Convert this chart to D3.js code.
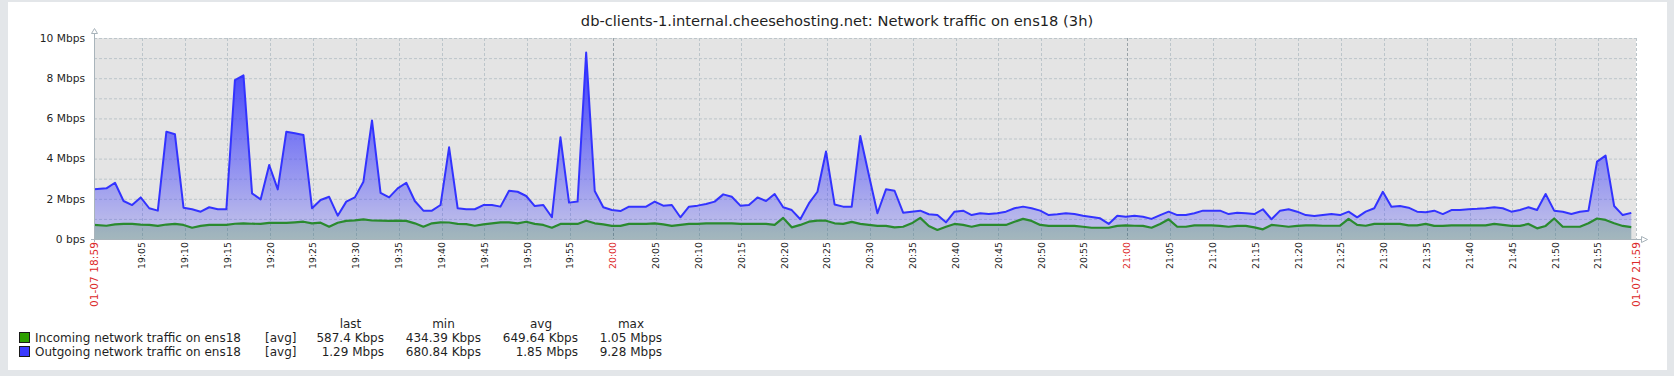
<!DOCTYPE html>
<html>
<head>
<meta charset="utf-8">
<script src="https://cdn.jsdelivr.net/npm/d3@7/dist/d3.min.js"></script>
<style>
  html, body { margin: 0; padding: 0; background: #e3e6e9; }
  #chart { width: 1674px; height: 376px; }
  #chart text { font-family: "DejaVu Sans", sans-serif; fill: #1f1f1f; }
</style>
</head>
<body>
<div id="chart"></div>
<script>
// Zabbix style traffic graph, 3h window

const chartTitle = 'db-clients-1.internal.cheesehosting.net: Network traffic on ens18 (3h)';

// y axis, in Mbps
const yGridValues = [0, 1, 2, 3, 4, 5, 6, 7, 8, 9, 10];
const yLabelValues = [0, 2, 4, 6, 8, 10];
const yLabelTexts = ['0 bps', '2 Mbps', '4 Mbps', '6 Mbps', '8 Mbps', '10 Mbps'];

// time window and sampling (UTC, one sample a minute)
const rangeStart = Date.UTC(2025, 0, 7, 18, 59, 26);
const rangeEnd = Date.UTC(2025, 0, 7, 21, 59, 26);
const sampleStart = Date.UTC(2025, 0, 7, 18, 59, 53);
const sampleStepMs = 60 * 1000;

// Outgoing network traffic on ens18, Mbps per minute
const outgoing = [
  2.47, 2.52, 2.80, 1.89, 1.69, 2.07, 1.53, 1.41, 5.34, 5.21,
  1.56, 1.48, 1.36, 1.58, 1.48, 1.48, 7.90, 8.14, 2.27, 1.97,
  3.68, 2.47, 5.34, 5.26, 5.17, 1.53, 1.94, 2.10, 1.16, 1.86,
  2.07, 2.85, 5.90, 2.30, 2.07, 2.52, 2.80, 1.89, 1.41, 1.41,
  1.69, 4.56, 1.53, 1.48, 1.48, 1.69, 1.69, 1.61, 2.40, 2.35,
  2.14, 1.64, 1.69, 1.08, 5.06, 1.81, 1.86, 9.28, 2.39, 1.58,
  1.44, 1.39, 1.61, 1.61, 1.61, 1.86, 1.66, 1.69, 1.08, 1.61,
  1.66, 1.74, 1.86, 2.22, 2.10, 1.66, 1.69, 2.07, 1.89, 2.24,
  1.58, 1.44, 0.98, 1.77, 2.35, 4.35, 1.72, 1.61, 1.61, 5.12,
  3.18, 1.28, 2.47, 2.40, 1.31, 1.36, 1.41, 1.23, 1.19, 0.83,
  1.36, 1.41, 1.19, 1.28, 1.24, 1.28, 1.36, 1.53, 1.61, 1.53,
  1.41, 1.19, 1.23, 1.28, 1.24, 1.16, 1.10, 1.03, 0.75, 1.16,
  1.11, 1.16, 1.11, 1.00, 1.19, 1.36, 1.19, 1.19, 1.28, 1.41,
  1.41, 1.41, 1.24, 1.31, 1.28, 1.24, 1.48, 0.98, 1.41, 1.48,
  1.36, 1.19, 1.14, 1.19, 1.24, 1.19, 1.36, 1.08, 1.36, 1.53,
  2.35, 1.61, 1.64, 1.56, 1.36, 1.33, 1.41, 1.24, 1.44, 1.44,
  1.48, 1.50, 1.53, 1.58, 1.53, 1.36, 1.44, 1.58, 1.44, 2.24,
  1.41, 1.36, 1.24, 1.36, 1.41, 3.85, 4.15, 1.64, 1.19, 1.30
];

// Incoming network traffic on ens18, Mbps per minute
const incoming = [
  0.70, 0.66, 0.73, 0.75, 0.75, 0.72, 0.70, 0.65, 0.72, 0.75,
  0.70, 0.56, 0.65, 0.70, 0.70, 0.70, 0.76, 0.78, 0.76, 0.75,
  0.80, 0.80, 0.80, 0.83, 0.86, 0.78, 0.81, 0.61, 0.81, 0.90,
  0.93, 0.98, 0.92, 0.91, 0.90, 0.91, 0.90, 0.78, 0.61, 0.78,
  0.83, 0.82, 0.75, 0.74, 0.66, 0.73, 0.78, 0.83, 0.83, 0.78,
  0.86, 0.75, 0.70, 0.56, 0.75, 0.75, 0.75, 0.91, 0.78, 0.73,
  0.65, 0.65, 0.75, 0.75, 0.75, 0.78, 0.73, 0.65, 0.70, 0.75,
  0.75, 0.78, 0.78, 0.78, 0.78, 0.75, 0.75, 0.75, 0.75, 0.70,
  1.05, 0.58, 0.70, 0.86, 0.91, 0.91, 0.78, 0.75, 0.85, 0.75,
  0.70, 0.65, 0.65, 0.58, 0.61, 0.78, 1.05, 0.65, 0.45, 0.61,
  0.75, 0.70, 0.61, 0.70, 0.70, 0.70, 0.70, 0.86, 1.00, 0.90,
  0.70, 0.65, 0.65, 0.65, 0.65, 0.61, 0.56, 0.56, 0.56, 0.65,
  0.68, 0.66, 0.65, 0.56, 0.75, 0.98, 0.61, 0.61, 0.68, 0.68,
  0.68, 0.65, 0.61, 0.65, 0.65, 0.58, 0.48, 0.70, 0.66, 0.61,
  0.65, 0.68, 0.68, 0.66, 0.66, 0.66, 1.00, 0.70, 0.66, 0.75,
  0.75, 0.75, 0.75, 0.68, 0.68, 0.75, 0.65, 0.65, 0.68, 0.68,
  0.68, 0.68, 0.68, 0.75, 0.70, 0.65, 0.65, 0.75, 0.53, 0.65,
  1.02, 0.61, 0.61, 0.61, 0.78, 1.02, 0.95, 0.78, 0.65, 0.59
];

// legend table
const legendNames = ['Incoming network traffic on ens18', 'Outgoing network traffic on ens18'];
const legendFunc = ['[avg]', '[avg]'];
const legendHeaders = ['last', 'min', 'avg', 'max'];
const legendLast = ['587.4 Kbps', '1.29 Mbps'];
const legendMin = ['434.39 Kbps', '680.84 Kbps'];
const legendAvg = ['649.64 Kbps', '1.85 Mbps'];
const legendMax = ['1.05 Mbps', '9.28 Mbps'];

const W = 1674, H = 376;
const plot = { left: 94, right: 1636, top: 38, bottom: 239 };
const axisColor = '#a9b4bb';
const gridColor = '#bcc5ca';
const redText = '#dc2a2a';
const inColor = { swatch: '#2ea000', line: '#2a8a2e', fill: 'rgba(26,124,17,0.2)' };
const outColor = { swatch: '#3b3bff', line: '#3333ff' };

const svg = d3.select('#chart').append('svg')
  .attr('width', W)
  .attr('height', H);

// white panel inside the grey page border
svg.append('rect')
  .attr('x', 8).attr('y', 2)
  .attr('width', 1659).attr('height', 368)
  .attr('fill', '#ffffff');

svg.append('text')
  .attr('x', W / 2)
  .attr('y', 26)
  .attr('text-anchor', 'middle')
  .style('font-size', '14.67px')
  .text(chartTitle);

const x = d3.scaleUtc()
  .domain([rangeStart, rangeEnd])
  .range([plot.left, plot.right]);

const y = d3.scaleLinear()
  .domain([0, 10])
  .range([plot.bottom, plot.top]);

// plot background
svg.append('rect')
  .attr('x', plot.left)
  .attr('y', plot.top)
  .attr('width', plot.right - plot.left)
  .attr('height', plot.bottom - plot.top)
  .attr('fill', '#e4e4e4');

// 5 minute ticks, skipping any that crowd the edge labels
const ticks = d3.utcMinute.every(5).range(new Date(rangeStart), new Date(rangeEnd))
  .filter(t => x(t) - plot.left > 20 && plot.right - x(t) > 20);
const isHour = t => t.getUTCMinutes() === 0;

const grid = svg.append('g').attr('class', 'grid');
grid.selectAll('line.h')
  .data(yGridValues.filter(v => v > 0))
  .join('line')
  .attr('class', 'h')
  .attr('x1', plot.left).attr('x2', plot.right)
  .attr('y1', d => y(d) + 0.5).attr('y2', d => y(d) + 0.5)
  .attr('stroke', gridColor)
  .attr('stroke-dasharray', '3,2');

grid.selectAll('line.v')
  .data(ticks.concat([new Date(rangeEnd)]))
  .join('line')
  .attr('class', 'v')
  .attr('x1', d => Math.round(x(d)) + 0.5).attr('x2', d => Math.round(x(d)) + 0.5)
  .attr('y1', plot.top).attr('y2', plot.bottom)
  .attr('stroke', d => isHour(d) ? '#9aa3a8' : gridColor)
  .attr('stroke-dasharray', '3,2');

// series
const toPoints = arr => arr.map((v, i) => ({ t: sampleStart + i * sampleStepMs, v }));
const outPts = toPoints(outgoing);
const inPts = toPoints(incoming);
const px = (d, i) => x(i === 0 ? Math.max(rangeStart, Math.min(d.t, rangeStart)) : d.t);

const defs = svg.append('defs');
const grad = defs.append('linearGradient')
  .attr('id', 'out-grad')
  .attr('gradientUnits', 'userSpaceOnUse')
  .attr('x1', 0).attr('x2', 0)
  .attr('y1', y(10)).attr('y2', y(0));
grad.append('stop').attr('offset', '0%').attr('stop-color', '#2f2fff').attr('stop-opacity', 1);
grad.append('stop').attr('offset', '100%').attr('stop-color', '#3333ff').attr('stop-opacity', 0.17);

const area = d3.area()
  .x(px)
  .y0(y(0))
  .y1(d => y(d.v));
const line = d3.line()
  .x(px)
  .y(d => y(d.v));

svg.append('path')
  .datum(outPts)
  .attr('d', area)
  .attr('fill', 'url(#out-grad)');

svg.append('path')
  .datum(inPts)
  .attr('d', area)
  .attr('fill', inColor.fill);

svg.append('path')
  .datum(outPts)
  .attr('d', line)
  .attr('fill', 'none')
  .attr('stroke', outColor.line)
  .attr('stroke-width', 2)
  .attr('stroke-linejoin', 'round');

svg.append('path')
  .datum(inPts)
  .attr('d', line)
  .attr('fill', 'none')
  .attr('stroke', inColor.line)
  .attr('stroke-width', 2.2)
  .attr('stroke-linejoin', 'round');

// axes with arrow heads
svg.append('line')
  .attr('x1', plot.left + 0.5).attr('x2', plot.left + 0.5)
  .attr('y1', 33).attr('y2', plot.bottom + 3)
  .attr('stroke', axisColor);
svg.append('line')
  .attr('x1', plot.left - 3).attr('x2', 1641)
  .attr('y1', plot.bottom + 0.5).attr('y2', plot.bottom + 0.5)
  .attr('stroke', axisColor);
svg.append('path')
  .attr('d', `M${plot.left + 0.5},28.5 L${plot.left + 3.5},33.5 L${plot.left - 2.5},33.5 Z`)
  .attr('fill', '#fff').attr('stroke', axisColor);
svg.append('path')
  .attr('d', `M1647.5,${plot.bottom + 0.5} L1641.5,${plot.bottom - 2.5} L1641.5,${plot.bottom + 3.5} Z`)
  .attr('fill', '#fff').attr('stroke', axisColor);

// y labels
svg.append('g')
  .selectAll('text')
  .data(yLabelValues)
  .join('text')
  .attr('x', 85)
  .attr('y', d => y(d))
  .attr('dy', '0.36em')
  .attr('text-anchor', 'end')
  .style('font-size', '10.67px')
  .text((d, i) => yLabelTexts[i]);

// x labels, rotated
const fmtTick = d3.utcFormat('%H:%M');
const fmtEdge = d3.utcFormat('%m-%d %H:%M');
const xLabels = [{ t: new Date(rangeStart), edge: true }]
  .concat(ticks.map(t => ({ t, edge: false })))
  .concat([{ t: new Date(rangeEnd), edge: true }]);

svg.append('g')
  .selectAll('text')
  .data(xLabels)
  .join('text')
  .attr('transform', d => `translate(${x(d.t)},${plot.bottom + 3}) rotate(-90)`)
  .attr('dy', '0.36em')
  .attr('text-anchor', 'end')
  .style('font-size', d => d.edge ? '10.67px' : '9.33px')
  .style('fill', d => (d.edge || isHour(d.t)) ? redText : '#1f1f1f')
  .text(d => d.edge ? fmtEdge(d.t) : fmtTick(d.t));

// legend
const legend = svg.append('g').style('font-size', '12px');
const rowY = [342, 356];
const colRight = [384, 481, 578, 662];
const colCenter = [350.5, 443.5, 541, 631];
const swatches = [inColor.swatch, outColor.swatch];
const columns = [legendLast, legendMin, legendAvg, legendMax];

legend.selectAll('text.hdr')
  .data(legendHeaders)
  .join('text')
  .attr('class', 'hdr')
  .attr('x', (d, i) => colCenter[i])
  .attr('y', 328)
  .attr('text-anchor', 'middle')
  .text(d => d);

legendNames.forEach((name, r) => {
  legend.append('rect')
    .attr('x', 19.5).attr('y', rowY[r] - 9.5)
    .attr('width', 10).attr('height', 10)
    .attr('fill', swatches[r])
    .attr('stroke', '#1a1a1a');
  legend.append('text')
    .attr('x', 35).attr('y', rowY[r])
    .text(name);
  legend.append('text')
    .attr('x', 265).attr('y', rowY[r])
    .text(legendFunc[r]);
  columns.forEach((col, c) => {
    legend.append('text')
      .attr('x', colRight[c]).attr('y', rowY[r])
      .attr('text-anchor', 'end')
      .text(col[r]);
  });
});
</script>
</body>
</html>
